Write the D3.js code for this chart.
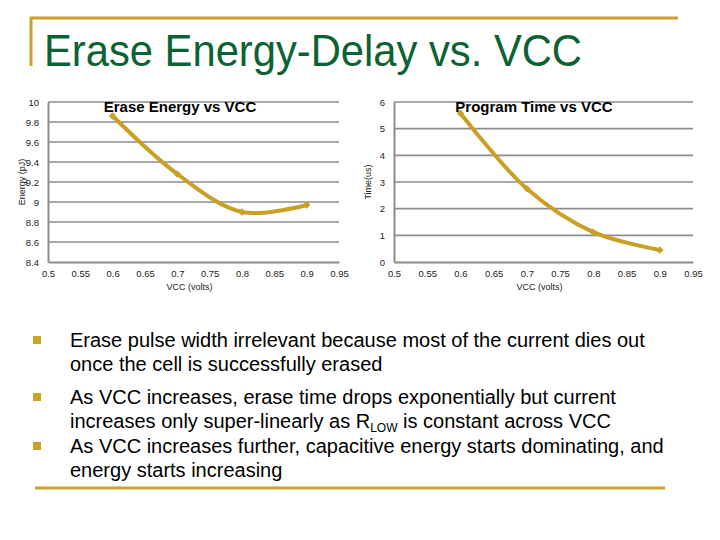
<!DOCTYPE html>
<html>
<head>
<meta charset="utf-8">
<script src="https://cdn.jsdelivr.net/npm/d3@7"></script>
<style>
  body { margin: 0; background: #fff; }
  svg { font-family: Arial, "Liberation Sans", sans-serif; }
</style>
</head>
<body>
<svg width="720" height="540"></svg>
<script>
// data
const vcc = [0.6, 0.7, 0.8, 0.9];
const energy = [9.86, 9.28, 8.9, 8.97];
const progTime = [5.58, 2.75, 1.12, 0.45];
const xTicks = [0.5, 0.55, 0.6, 0.65, 0.7, 0.75, 0.8, 0.85, 0.9, 0.95];
const energyTicks = [8.4, 8.6, 8.8, 9, 9.2, 9.4, 9.6, 9.8, 10];
const timeTicks = [0, 1, 2, 3, 4, 5, 6];
const bullets = [
  [["Erase pulse width irrelevant because most of the current dies out"], ["once the cell is successfully erased"]],
  [["As VCC increases, erase time drops exponentially but current"], ["increases only super-linearly as R", "LOW", " is constant across VCC"]],
  [["As VCC increases further, capacitive energy starts dominating, and"], ["energy starts increasing"]]
];

const gold = "#c9a227";
const lineColor = "#c9a024";
const svg = d3.select("svg");

// slide frame
svg.append("line").attr("x1", 30).attr("x2", 678).attr("y1", 18).attr("y2", 18)
  .attr("stroke", gold).attr("stroke-width", 3);
svg.append("line").attr("x1", 31).attr("x2", 31).attr("y1", 17).attr("y2", 66)
  .attr("stroke", gold).attr("stroke-width", 3);
svg.append("text").attr("x", 44).attr("y", 66)
  .attr("font-size", 45).attr("fill", "#0b6233")
  .attr("textLength", 538).attr("lengthAdjust", "spacingAndGlyphs")
  .text("Erase Energy-Delay vs. VCC");

function drawChart(opts) {
  const x = d3.scaleLinear().domain([0.5, 0.95]).range([opts.left, opts.right]);
  const y = d3.scaleLinear().domain(opts.domain).range([opts.bottom, opts.top]);
  const g = svg.append("g");

  // gridlines
  g.append("g").selectAll("line").data(opts.yTicks.slice(1)).join("line")
    .attr("x1", opts.left).attr("x2", opts.right)
    .attr("y1", d => y(d)).attr("y2", d => y(d))
    .attr("stroke", "#8c8c8c").attr("stroke-width", 1.6);

  const yAxis = d3.axisLeft(y).tickValues(opts.yTicks).tickSize(0).tickPadding(9)
    .tickFormat(d => d3.format("~g")(d));
  const ya = g.append("g").attr("transform", `translate(${opts.left},0)`).call(yAxis);
  ya.select(".domain").attr("stroke", "#8c8c8c").attr("stroke-width", 2);
  ya.selectAll("text").attr("font-size", 9.5).attr("fill", "#222").attr("font-family", "Arial");

  const xAxis = d3.axisBottom(x).tickValues(xTicks).tickSize(0).tickPadding(8)
    .tickFormat(d => d3.format("~g")(d));
  const xa = g.append("g").attr("transform", `translate(0,${opts.bottom})`).call(xAxis);
  xa.select(".domain").attr("stroke", "#8c8c8c").attr("stroke-width", 2);
  xa.selectAll("text").attr("font-size", 9.5).attr("fill", "#222").attr("font-family", "Arial");

  g.append("text").attr("x", (opts.left + opts.right) / 2 - 4).attr("y", opts.bottom + 28)
    .attr("text-anchor", "middle").attr("font-size", 9).attr("fill", "#222")
    .text("VCC (volts)");
  g.append("text")
    .attr("transform", `translate(${opts.left - 23},${(opts.top + opts.bottom) / 2}) rotate(-90)`)
    .attr("text-anchor", "middle").attr("font-size", 9).attr("fill", "#222")
    .text(opts.yLabel);

  const pts = vcc.map((v, i) => [v, opts.values[i]]);
  const line = d3.line().x(d => x(d[0])).y(d => y(d[1])).curve(d3.curveCatmullRom.alpha(0.5));
  g.append("path").datum(pts).attr("d", line)
    .attr("fill", "none").attr("stroke", lineColor).attr("stroke-width", 4)
    .attr("stroke-linejoin", "round").attr("stroke-linecap", "round");
  g.append("g").selectAll("path").data(pts).join("path")
    .attr("d", d3.symbol(d3.symbolDiamond2, 36))
    .attr("transform", d => `translate(${x(d[0])},${y(d[1])})`)
    .attr("fill", lineColor);

  g.append("text").attr("x", opts.titleX).attr("y", opts.top + 10)
    .attr("text-anchor", "middle").attr("font-size", 15).attr("font-weight", "bold")
    .attr("fill", "#000")
    .text(opts.title);
}

drawChart({ left: 48, right: 339, top: 102, bottom: 262, domain: [8.4, 10],
  yTicks: energyTicks, values: energy, yLabel: "Energy (pJ)",
  title: "Erase Energy vs VCC", titleX: 180 });
drawChart({ left: 394, right: 693, top: 102, bottom: 262, domain: [0, 6],
  yTicks: timeTicks, values: progTime, yLabel: "Time(us)",
  title: "Program Time vs VCC", titleX: 534 });

// bullets
const bulletY = [340, 397, 446];
bullets.forEach((b, i) => {
  svg.append("rect").attr("x", 33).attr("y", bulletY[i] - 4).attr("width", 8).attr("height", 8)
    .attr("fill", gold);
  b.forEach((ln, j) => {
    const t = svg.append("text").attr("x", 70).attr("y", bulletY[i] + 7 + j * 24)
      .attr("font-size", 20).attr("fill", "#000");
    if (ln.length === 1) t.text(ln[0]);
    else {
      t.append("tspan").text(ln[0]);
      t.append("tspan").attr("font-size", 12).attr("dy", 4).text(ln[1]);
      t.append("tspan").attr("dy", -4).text(ln[2]);
    }
  });
});
svg.append("line").attr("x1", 35).attr("x2", 665).attr("y1", 488).attr("y2", 488)
  .attr("stroke", gold).attr("stroke-width", 3);
</script>
</body>
</html>
